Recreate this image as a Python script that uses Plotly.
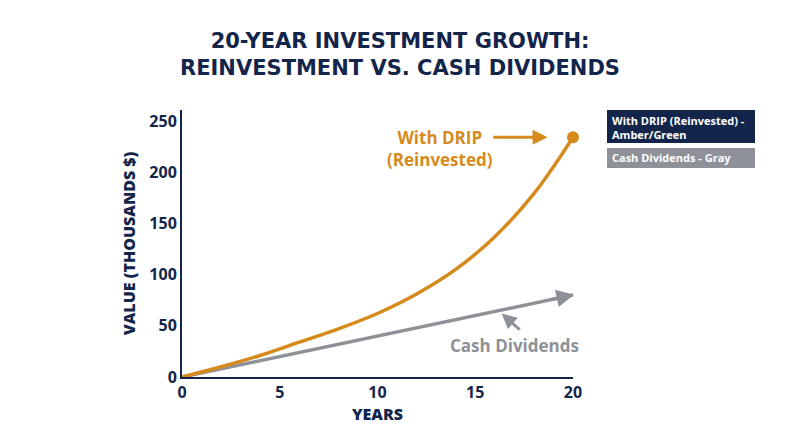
import plotly.graph_objects as go

years = [0, 2, 4, 6, 8, 10, 12, 14, 16, 18, 20]
drip_values = [0, 10, 21, 34, 47, 62, 81, 105, 137, 179, 234]
cash_years = [0, 20]
cash_values = [0, 80]
x_ticks = [0, 5, 10, 15, 20]
y_ticks = [0, 50, 100, 150, 200, 250]

NAVY = "#13254b"
ORANGE = "#d68a1c"
GRAY = "#8f9199"
FONT = "Open Sans"
TFONT = "DejaVu Sans"

OFF = 8  # page body margin
L, R, T, B = 182, 573, 110, 377
W, H = R - L, B - T


def px(x):
    return (x - L) / W


def py(y):
    return (B - y) / H


fig = go.Figure()
fig.add_trace(go.Scatter(x=cash_years, y=cash_values, mode="lines",
                         line=dict(color=GRAY, width=3.5), cliponaxis=False,
                         showlegend=False, hoverinfo="skip"))
fig.add_trace(go.Scatter(x=years, y=drip_values, mode="lines",
                         line=dict(color=ORANGE, width=3.5, shape="spline"),
                         cliponaxis=False, showlegend=False))
fig.add_trace(go.Scatter(x=[years[-1]], y=[drip_values[-1]], mode="markers",
                         marker=dict(color=ORANGE, size=12), cliponaxis=False,
                         showlegend=False))

ann = []
ann.append(dict(x=cash_years[-1] + 0.05, y=cash_values[-1] + 0.3, ax=cash_years[-1] - 1.2,
                ay=cash_values[-1] - 4.8, xref="x", yref="y", axref="x", ayref="y",
                showarrow=True, arrowhead=2, arrowsize=1, arrowwidth=3.5,
                arrowcolor=GRAY, text=""))
ann.append(dict(x=13.2, y=223, xref="x", yref="y", showarrow=False,
                text="With DRIP<br>(Reinvested)",
                font=dict(family=FONT, size=17, color=ORANGE, weight=700),
                align="center"))
ann.append(dict(x=18.7, y=234, ax=15.85, ay=234, xref="x", yref="y", axref="x",
                ayref="y", showarrow=True, arrowhead=2, arrowsize=1, arrowwidth=3,
                arrowcolor=ORANGE, text=""))
ann.append(dict(x=17.0, y=31, xref="x", yref="y", showarrow=False,
                text="Cash Dividends",
                font=dict(family=FONT, size=17, color=GRAY, weight=700)))
ann.append(dict(x=16.35, y=62, ax=17.35, ay=45, xref="x", yref="y", axref="x",
                ayref="y", showarrow=True, arrowhead=2, arrowsize=1, arrowwidth=3,
                arrowcolor=GRAY, text=""))
ann.append(dict(x=px(610), y=py(111), xref="paper", yref="paper",
                xanchor="left", yanchor="top", showarrow=False,
                text="With DRIP (Reinvested) -<br>Amber/Green", align="left",
                font=dict(family=FONT, size=11, color="white", weight=700)))
ann.append(dict(x=px(610), y=py(148), xref="paper", yref="paper",
                xanchor="left", yanchor="top", showarrow=False,
                text="Cash Dividends - Gray", align="left",
                font=dict(family=FONT, size=11, color="white", weight=700)))

shapes = [
    dict(type="rect", xref="paper", yref="paper", x0=px(607), x1=px(755),
         y0=py(143), y1=py(110), fillcolor=NAVY, line=dict(width=0), layer="below"),
    dict(type="rect", xref="paper", yref="paper", x0=px(607), x1=px(755),
         y0=py(168), y1=py(148), fillcolor=GRAY, line=dict(width=0), layer="below"),
]

fig.update_layout(
    width=800, height=447,
    margin=dict(l=L - OFF, r=800 - R + OFF, t=T - OFF, b=447 - B + OFF, autoexpand=False),
    paper_bgcolor="white", plot_bgcolor="white",
    title=dict(text="20-YEAR INVESTMENT GROWTH:<br>REINVESTMENT VS. CASH DIVIDENDS",
               x=(400 - OFF) / 800, xanchor="center", y=1 - 40 / 447, yanchor="top",
               font=dict(family=TFONT, size=21, color=NAVY, weight=700)),
    annotations=ann, shapes=shapes,
    xaxis=dict(range=[0, 20], tickvals=x_ticks, showgrid=False, zeroline=False,
               showline=True, linecolor=NAVY, linewidth=2, ticks="", automargin=False,
               tickfont=dict(family=FONT, size=16, color=NAVY, weight=700),
               title=dict(text="YEARS", standoff=6,
                          font=dict(family=FONT, size=16, color=NAVY, weight=800))),
    yaxis=dict(range=[0, 260.7], tickvals=y_ticks, showgrid=False, zeroline=False,
               showline=True, linecolor=NAVY, linewidth=2, ticks="", automargin=False,
               tickfont=dict(family=FONT, size=16, color=NAVY, weight=700),
               title=dict(text="VALUE (THOUSANDS $)", standoff=10,
                          font=dict(family=FONT, size=16, color=NAVY, weight=800))),
)

fig.write_html("out.html")
